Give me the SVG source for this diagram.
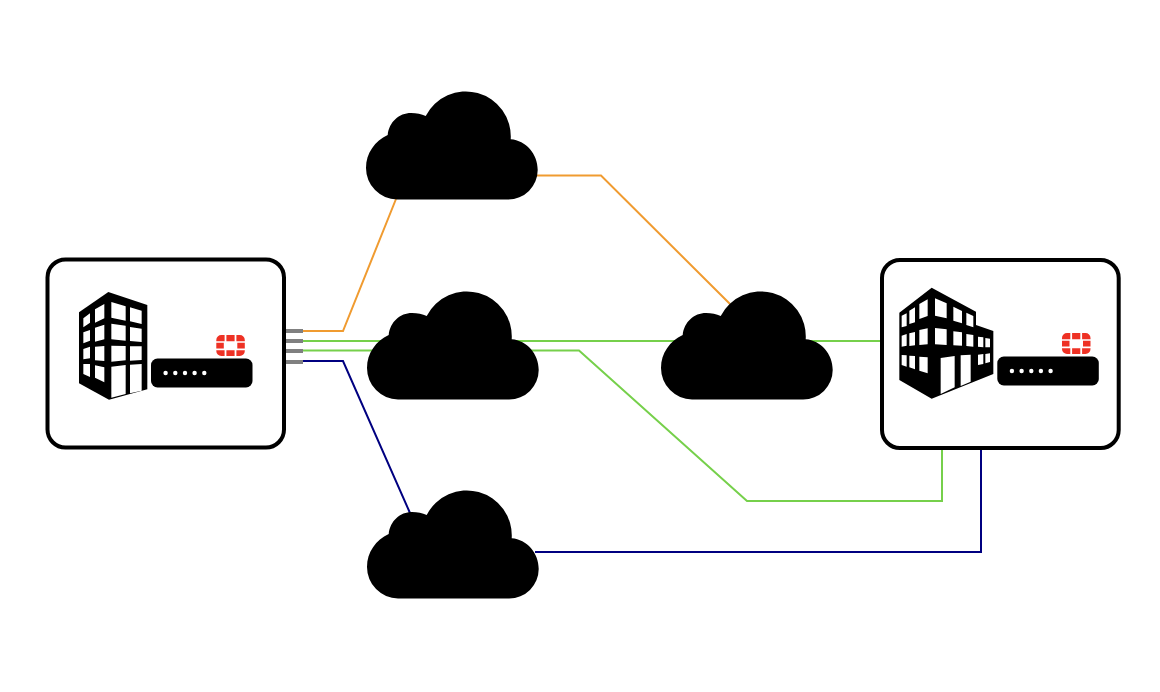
<svg xmlns="http://www.w3.org/2000/svg" width="1160" height="692" viewBox="0 0 1160 692">
<defs>
<path id="cloud" d="M397 199.500A31.500 31.500 0 0 1 366 168C366 153 375 141 387.700 135C389 122 399 113 411 113C416.500 113 421.500 114 425.700 116A45 45 0 0 1 510.700 139.300C526 140.500 537.700 154 537.700 170A29.500 29.500 0 0 1 508 199.500Z" fill="#000"/>
<g id="logo">
<path d="M5 0H8.300V6.300H0V5A5 5 0 0 1 5 0ZM10.100 0H18.300V6.300H10.100ZM20.100 0H23.500A5 5 0 0 1 28.500 5V6.300H20.100ZM0 7.800H7.500V13.500H0ZM21 7.800H28.500V13.500H21ZM0 15.200H8.300V21H5A5 5 0 0 1 0 16ZM10.100 15.200H18.300V21H10.100ZM20.100 15.200H28.500V16A5 5 0 0 1 23.500 21H20.100Z" fill="#ee3124"/>
</g>
<g id="dev">
<rect x="0" y="0" width="101.500" height="29" rx="6.500" fill="#000"/>
<g fill="#fff"><circle cx="14.600" cy="14.500" r="2.200"/><circle cx="24.300" cy="14.500" r="2.200"/><circle cx="34" cy="14.500" r="2.200"/><circle cx="43.600" cy="14.500" r="2.200"/><circle cx="53.300" cy="14.500" r="2.200"/></g>
</g>
</defs>
<style>
.box{fill:#fff;stroke:#000;stroke-width:4}
.c{fill:none;stroke-width:2;stroke-linejoin:miter}
.o{stroke:#f09b30}.g{stroke:#76d04b}.n{stroke:#000080}
.stub{fill:#808080}
</style>
<rect width="1160" height="692" fill="#fff"/>
<g id="connectors">
<path class="c o" d="M303 331H343L396 199"/>
<path class="c o" d="M537 175.500H601L730 304"/>
<path class="c g" d="M303 341H881"/>
<path class="c g" d="M303 350.500H579L747 501H942V448"/>
<path class="c n" d="M303 361H343L410 513"/>
<path class="c n" d="M535 552H981V448"/>
</g>
<g id="stubs">
<rect class="stub" x="286" y="329" width="17" height="4"/>
<rect class="stub" x="286" y="339" width="17" height="4"/>
<rect class="stub" x="286" y="349" width="17" height="4"/>
<rect class="stub" x="286" y="360" width="17" height="4"/>
</g>
<g id="cloud-1"><use href="#cloud"/></g>
<g id="cloud-2"><use href="#cloud" x="1" y="200"/></g>
<g id="cloud-3"><use href="#cloud" x="295" y="200"/></g>
<g id="cloud-4"><use href="#cloud" x="1" y="399"/></g>
<g id="site-left">
<rect class="box" x="47.500" y="259.500" width="236.500" height="188" rx="18"/>
<g transform="translate(40 250) scale(.33333)">
<path d="M117 187L205 126L322 165V418L207 449L117 400Z" fill="#000"/>
<path fill="#fff" d="M130 205L150 190V218L130 232ZM130 247L150 240V272L130 280ZM130 297L150 290V325L130 328ZM130 342L150 342V381L130 372ZM165 178L193 162V205L165 218ZM165 233L193 224V268L165 275ZM165 290L193 288V333L165 331ZM165 346L193 352V397L165 383ZM214 156L257 169V212L214 203ZM214 221L257 227V272L214 268ZM214 287L257 288V331L214 335ZM214 350L257 345V432L214 443ZM270 172L305 182V222L270 214ZM270 231L305 236V276L270 273ZM270 289L305 289V330L270 332ZM270 344L305 342V422L270 430Z"/>
</g>
<use href="#logo" x="216.300" y="335"/>
<use href="#dev" x="151" y="358.500"/>
</g>
<g id="site-right">
<rect class="box" x="882" y="260" width="236.700" height="188" rx="18"/>
<g transform="translate(870 250) scale(.33333)">
<path d="M88 188L185 113L318 185V225L370 243V372L185 446L88 390Z" fill="#000"/>
<path fill="#fff" d="M95 197L110 190V228L95 232ZM118 182L135 172V217L118 222ZM148 162L173 148V198L148 207ZM195 145L230 160V205L195 197ZM250 170L276 183V220L250 212ZM289 188L310 198V232L289 225ZM95 257L110 252V287L95 290ZM118 250L135 246V286L118 288ZM148 240L173 235V283L148 285ZM195 234L230 238V285L195 283ZM250 244L276 247V287L250 286ZM289 252L310 255V290L289 288ZM324 260L340 262V292L324 290ZM346 264L360 266V292L346 292ZM95 315L110 316V350L95 345ZM118 317L135 318V358L118 352ZM148 320L173 322V370L148 362ZM212 324L254 318V412L212 432ZM272 316L302 314V395L272 408ZM324 314L340 312V342L324 345ZM346 312L360 310V336L346 340Z"/>
</g>
<use href="#logo" x="1062" y="333"/>
<use href="#dev" x="997.300" y="356.500"/>
</g>
</svg>
